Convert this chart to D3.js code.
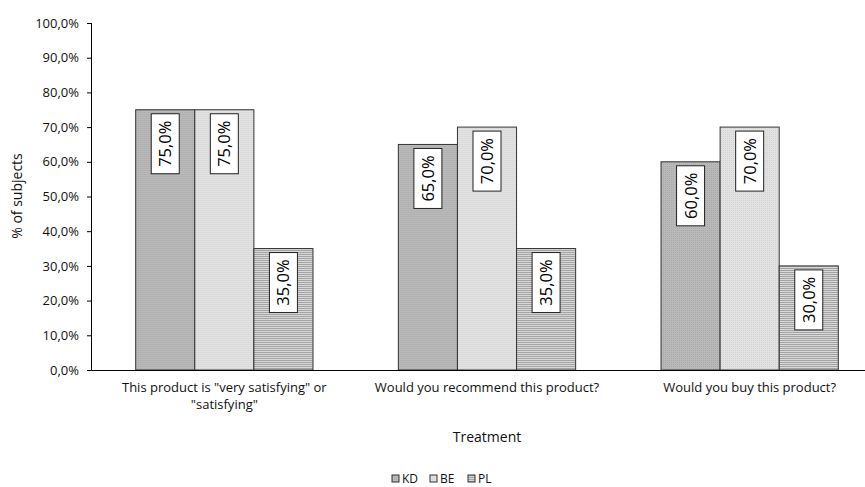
<!DOCTYPE html>
<html>
<head>
<meta charset="utf-8">
<script src="https://cdn.jsdelivr.net/npm/d3@7"></script>
<style>
  body { margin: 0; background: #fff; }
  svg { font-family: 'Open Sans', sans-serif; }
</style>
</head>
<body>
<div id="chart"></div>
<script>
const categories = ['This product is "very satisfying" or\n"satisfying"', 'Would you recommend this product?', 'Would you buy this product?']
const seriesNames = ['KD', 'BE', 'PL']
const kd = [75, 65, 60]
const be = [75, 70, 70]
const pl = [35, 35, 30]
const yTicks = [0, 10, 20, 30, 40, 50, 60, 70, 80, 90, 100]

const width = 865
const height = 487
const fmt = v => v.toFixed(1).replace('.', ',') + '%'

const svg = d3.select('#chart')
  .append('svg')
  .attr('width', width)
  .attr('height', height)

// fill patterns
const defs = svg.append('defs')
const dots = defs.append('pattern').attr('id', 'pkd').attr('width', 2).attr('height', 2).attr('patternUnits', 'userSpaceOnUse')
dots.append('rect').attr('width', 2).attr('height', 2).attr('fill', '#b9b9b9')
dots.append('rect').attr('width', 1).attr('height', 1).attr('fill', '#a9a9a9')
const dots2 = defs.append('pattern').attr('id', 'pbe').attr('width', 2).attr('height', 2).attr('patternUnits', 'userSpaceOnUse')
dots2.append('rect').attr('width', 2).attr('height', 2).attr('fill', '#e2e2e2')
dots2.append('rect').attr('width', 1).attr('height', 1).attr('fill', '#d4d4d4')
const lines = defs.append('pattern').attr('id', 'ppl').attr('width', 4).attr('height', 2).attr('patternUnits', 'userSpaceOnUse')
lines.append('rect').attr('width', 4).attr('height', 2).attr('fill', '#d8d8d8')
lines.append('rect').attr('width', 4).attr('height', 1).attr('fill', '#a4a4a4')
const fills = ['url(#pkd)', 'url(#pbe)', 'url(#ppl)']

const y = d3.scaleLinear().domain([0, 100]).range([370, 23])
const x0 = d3.scaleBand().domain(d3.range(categories.length)).range([93, 881]).paddingInner(0.325).paddingOuter(0.1625)
const x1 = d3.scaleBand().domain(d3.range(seriesNames.length)).range([0, x0.bandwidth()])

// y axis
const yAxis = svg.append('g')
  .attr('transform', 'translate(92,0)')
  .call(d3.axisLeft(y).tickValues(yTicks).tickFormat(fmt).tickSize(5).tickPadding(8))
yAxis.select('.domain').attr('stroke', '#000').attr('d', 'M-0.5,23V370.5')
yAxis.selectAll('.tick line').attr('stroke', '#000')
yAxis.selectAll('.tick text').attr('font-size', 13).attr('fill', '#111').attr('font-family', "'Open Sans', sans-serif")

// bars
const data = [kd, be, pl]
const groups = svg.append('g').selectAll('g')
  .data(categories.map((c, i) => ({ i, values: data.map(s => s[i]) })))
  .join('g')
  .attr('transform', d => `translate(${x0(d.i)},0)`)

groups.selectAll('rect')
  .data(d => d.values.map((v, s) => ({ v, s })))
  .join('rect')
  .attr('x', d => x1(d.s))
  .attr('y', d => y(d.v))
  .attr('width', x1.bandwidth())
  .attr('height', d => y(0) - y(d.v))
  .attr('fill', d => fills[d.s])
  .attr('stroke', '#333')
  .attr('stroke-width', 1)

// rotated value labels
const labels = groups.selectAll('g.lbl')
  .data(d => d.values.map((v, s) => ({ v, s })))
  .join('g')
  .attr('class', 'lbl')
  .attr('transform', d => `translate(${x1(d.s) + x1.bandwidth() / 2},${y(d.v) + 34}) rotate(-90)`)
labels.append('rect')
  .attr('x', -30).attr('y', -14).attr('width', 60).attr('height', 28)
  .attr('fill', '#fff').attr('stroke', '#222').attr('stroke-width', 1)
labels.append('text')
  .attr('text-anchor', 'middle')
  .attr('dy', '0.36em')
  .attr('font-size', 16.5)
  .attr('fill', '#000')
  .text(d => fmt(d.v))

// x axis line
svg.append('line')
  .attr('x1', 92).attr('x2', width).attr('y1', 370.5).attr('y2', 370.5)
  .attr('stroke', '#000')

// category labels, one text per line
const catLines = categories.flatMap((c, i) => c.split('\n').map((t, k) => ({ i, k, t })))
svg.append('g').selectAll('text')
  .data(catLines)
  .join('text')
  .attr('x', d => x0(d.i) + x0.bandwidth() / 2)
  .attr('y', d => 392 + d.k * 17)
  .attr('text-anchor', 'middle')
  .attr('font-size', 13)
  .attr('fill', '#111')
  .text(d => d.t)

// axis titles
svg.append('text')
  .attr('x', 487).attr('y', 442)
  .attr('text-anchor', 'middle')
  .attr('font-size', 14)
  .attr('fill', '#111')
  .text('Treatment')

svg.append('text')
  .attr('transform', 'translate(22,196) rotate(-90)')
  .attr('text-anchor', 'middle')
  .attr('font-size', 14)
  .attr('fill', '#111')
  .text('% of subjects')

// legend
const legend = svg.append('g').attr('transform', 'translate(392,475)')
const items = legend.selectAll('g')
  .data(seriesNames)
  .join('g')
  .attr('transform', (d, i) => `translate(${i * 38},0)`)
items.append('rect')
  .attr('width', 7).attr('height', 7)
  .attr('fill', (d, i) => fills[i])
  .attr('stroke', '#333')
items.append('text')
  .attr('x', 10).attr('y', 8)
  .attr('font-size', 12)
  .attr('fill', '#111')
  .text(d => d)
</script>
</body>
</html>
